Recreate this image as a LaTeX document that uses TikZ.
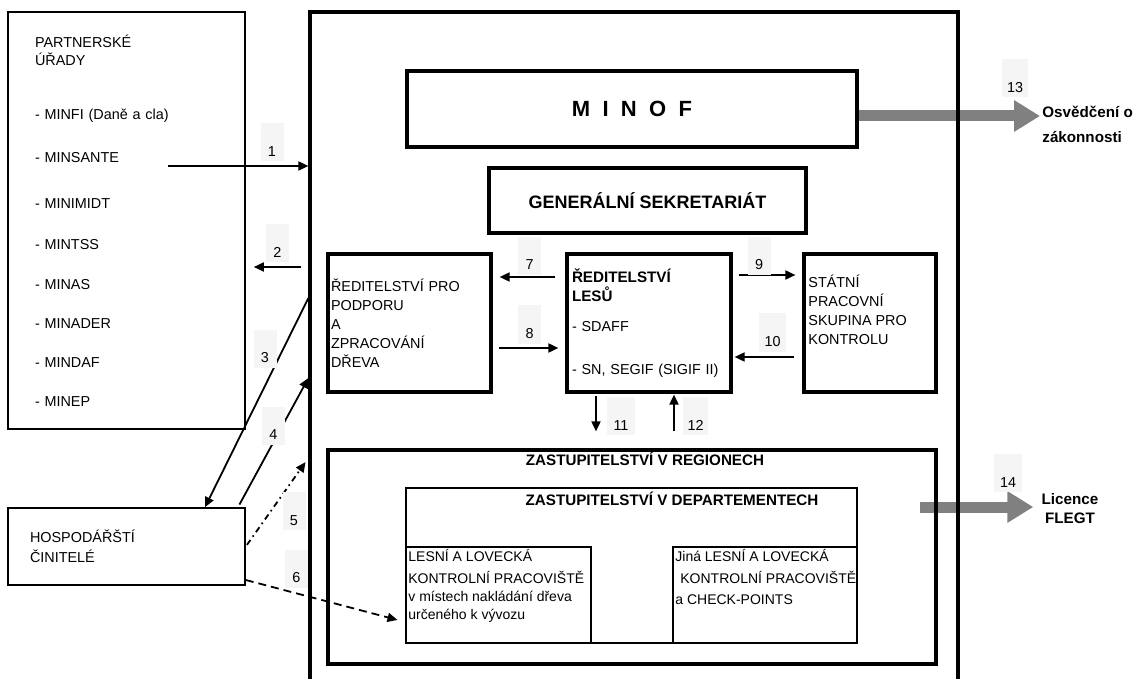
\documentclass[tikz,border=0pt]{standalone}
\usepackage{fontspec}
\setmainfont{Liberation Sans}
\usepackage{xcolor}
\usepackage{tikz}
\usetikzlibrary{arrows.meta}
\definecolor{sedasipka}{gray}{0.5}
\definecolor{sedepole}{gray}{0.96}

\begin{document}
\begin{tikzpicture}[x=0.5pt,y=-0.5pt,
  tlusty/.style={draw,line width=1.6pt,inner sep=0pt,font=\fontsize{7.2}{9.5}\selectfont},
  tenky/.style={draw,line width=0.8pt,inner sep=0pt,font=\fontsize{7.2}{9}\selectfont},
  popis/.style={inner sep=0pt,align=left,font=\fontsize{7.2}{9.5}\selectfont},
  nadpis/.style={inner sep=0pt,font=\bfseries\fontsize{7.6}{9}\selectfont},
  sipka/.style={line width=0.9pt,-{Triangle[length=5pt,width=4.5pt]}},
  vystup/.style={draw=sedasipka,line width=5.5pt,-{Triangle[length=13pt,width=15pt]}},
  cislo/.style={fill=sedepole,minimum width=11.5pt,inner xsep=1.5pt,inner ysep=0pt,text height=16.5pt,text depth=2.5pt,font=\fontsize{7.2}{9}\selectfont}]
\useasboundingbox (0,0) rectangle (1135,679);
\clip (0,0) rectangle (1135,679);
%partnerske urady
\node[tenky,minimum width=118.5pt,minimum height=208.5pt,text width=91.5pt,inner xsep=13.5pt,align=left] (partner) at (126.5,220.5) {PARTNERSKÉ\\ÚŘADY\\[18pt]- MINFI (Daně a cla)\\[12.5pt]- MINSANTE\\[14pt]- MINIMIDT\\[11.5pt]- MINTSS\\[11pt]- MINAS\\[10.5pt]- MINADER\\[10.5pt]- MINDAF\\[10.5pt]- MINEP};
\node[tenky,minimum width=118.5pt,minimum height=38.5pt,text width=96.5pt,inner xsep=11pt,align=left] (hospodari) at (126.5,546.5) {HOSPODÁŘŠTÍ\\[1pt]ČINITELÉ};

%vedeni
\node[tlusty,line width=1.9pt,minimum width=225pt,minimum height=38pt,font=\bfseries\fontsize{11}{13}\selectfont] (minof) at (632,109) {M\hspace{.56em}I\hspace{.56em}N\hspace{.56em}O\hspace{.56em}F\hspace{7pt}};
\node[tlusty,line width=1.9pt,minimum width=158.5pt,minimum height=32.5pt,font=\bfseries\fontsize{9}{11}\selectfont] (sekretariat) at (647.5,200.5) {GENERÁLNÍ SEKRETARIÁT};

%vystupy
\node[inner sep=0pt,align=left,anchor=west,font=\bfseries\fontsize{7.6}{12.5}\selectfont] (osvedceni) at (1042,124.5) {Osvědčení o\\zákonnosti};
\node[inner sep=0pt,align=center,font=\bfseries\fontsize{7.6}{9.5}\selectfont] (licence) at (1070,508.5) {Licence\\FLEGT};
\coordinate (z14) at (920,507);
\draw[vystup,shorten >=1pt] (minof.east |- 0,116) -- (osvedceni.west |- 0,116);
\draw[vystup,shorten >=4pt] (z14) -- (licence.west |- z14);

%ministerstvo
\node[tlusty,minimum width=324pt,minimum height=344pt] (ministerstvo) at (634,356) {};

%reditelstvi
\node[tlusty,minimum width=81.5pt,minimum height=69pt,text width=78.5pt,inner xsep=1.5pt,align=left] (podpora) at (409.5,323) {ŘEDITELSTVÍ PRO\\PODPORU\\A\\ZPRACOVÁNÍ\\DŘEVA};
\node[tlusty,minimum width=82pt,minimum height=69pt,text width=77pt,inner xsep=2.5pt,align=left] (lesy) at (649,323) {\textbf{\fontsize{7.6}{9.5}\selectfont ŘEDITELSTVÍ}\\\textbf{\fontsize{7.6}{9.5}\selectfont LESŮ}\\[5.5pt]- SDAFF\\[12pt]- SN, SEGIF (SIGIF II)};
\node[tlusty,minimum width=66pt,minimum height=69pt] (skupina) at (870,323) {};
\node[popis,anchor=north west] (skupina-text) at (808,275) {STÁTNÍ\\PRACOVNÍ\\SKUPINA PRO\\KONTROLU};

%regiony a departementy
\node[tlusty,minimum width=304pt,minimum height=107pt] (regiony) at (632,557) {};
\node[nadpis] (regiony-nazev) at (645,459) {ZASTUPITELSTVÍ V REGIONECH};
\node[tenky,minimum width=225.5pt,minimum height=77.5pt] (departementy) at (631.5,565.5) {};
\node[nadpis] (departementy-nazev) at (672,499) {ZASTUPITELSTVÍ V DEPARTEMENTECH};
\node[tenky,minimum width=92.5pt,minimum height=48pt] (stanoviste) at (498.5,595) {};
\node[tenky,minimum width=92pt,minimum height=48pt] (checkpointy) at (765,595) {};
\node[popis,anchor=north west,font=\fontsize{7}{9}\selectfont] (stanoviste-text) at (408,549) {LESNÍ A LOVECKÁ\\[2pt]KONTROLNÍ PRACOVIŠTĚ\\v místech nakládání dřeva\\určeného k vývozu};
\node[popis,anchor=north west,font=\fontsize{7}{9}\selectfont] (checkpointy-text) at (675,549) {Jiná LESNÍ A LOVECKÁ\\[2pt]\hspace*{2.5pt}KONTROLNÍ PRACOVIŠTĚ\\[1.5pt]a CHECK-POINTS};

%toky 1 az 6
\coordinate (z1) at (168,166);
\draw[sipka] (z1) -- (z1 -| ministerstvo.west);
\draw[sipka,shorten <=3.5pt,shorten >=4pt] (ministerstvo.west |- 0,267) -- (partner.east |- 0,267);
\draw[sipka] (ministerstvo.west |- 0,298) -- (hospodari.north -| 205,0);
\draw[sipka,shorten <=1.5pt] (hospodari.north -| 238,0) -- (ministerstvo.west |- 0,378);
\draw[sipka,dash pattern=on 3pt off 2pt on 0.8pt off 2pt,shorten <=1pt,shorten >=2.5pt] (hospodari.east) -- (ministerstvo.west |- 0,458);
\draw[sipka,dash pattern=on 4pt off 2.5pt,shorten >=4pt] (hospodari.east |- 0,580) -- (stanoviste.west |- 0,622);

%toky 7 az 12
\draw[sipka,shorten <=5pt,shorten >=3.5pt] (lesy.west |- 0,277) -- (podpora.east |- 0,277);
\draw[sipka,shorten <=3pt,shorten >=3.5pt] (podpora.east |- 0,348) -- (lesy.west |- 0,348);
\draw[sipka,shorten <=3pt,shorten >=3.5pt] (lesy.east |- 0,275) -- (skupina.west |- 0,275);
\draw[sipka,shorten <=4pt,shorten >=1pt] (skupina.west |- 0,357) -- (lesy.east |- 0,357);
\draw[sipka,shorten <=1pt,shorten >=8.5pt] (lesy.south -| 596,0) -- (regiony.north -| 596,0);
\draw[sipka,shorten <=8.5pt,shorten >=0.5pt] (regiony.north -| 674,0) -- (lesy.south -| 674,0);

%cisla toku
\node[cislo] (c1) at (272,142.5) {1};
\node[cislo] (c2) at (277.5,243.5) {2};
\node[cislo] (c3) at (265,348.5) {3};
\node[cislo] (c4) at (273.5,425.5) {4};
\node[cislo] (c5) at (294,511) {5};
\node[cislo] (c6) at (296.5,568.5) {6};
\node[cislo] (c7) at (529.5,256) {7};
\node[cislo] (c8) at (529.5,324.5) {8};
\node[cislo] (c9) at (759,256) {9};
\node[cislo,minimum width=13.5pt] (c10) at (772.5,332.5) {10};
\node[cislo,minimum width=14pt] (c11) at (621,416) {11};
\node[cislo,minimum width=12.5pt] (c12) at (695.5,416) {12};
\node[cislo,minimum width=13pt] (c13) at (1015,78.5) {13};
\node[cislo,minimum width=14pt] (c14) at (1008,473) {14};
\end{tikzpicture}
\end{document}
